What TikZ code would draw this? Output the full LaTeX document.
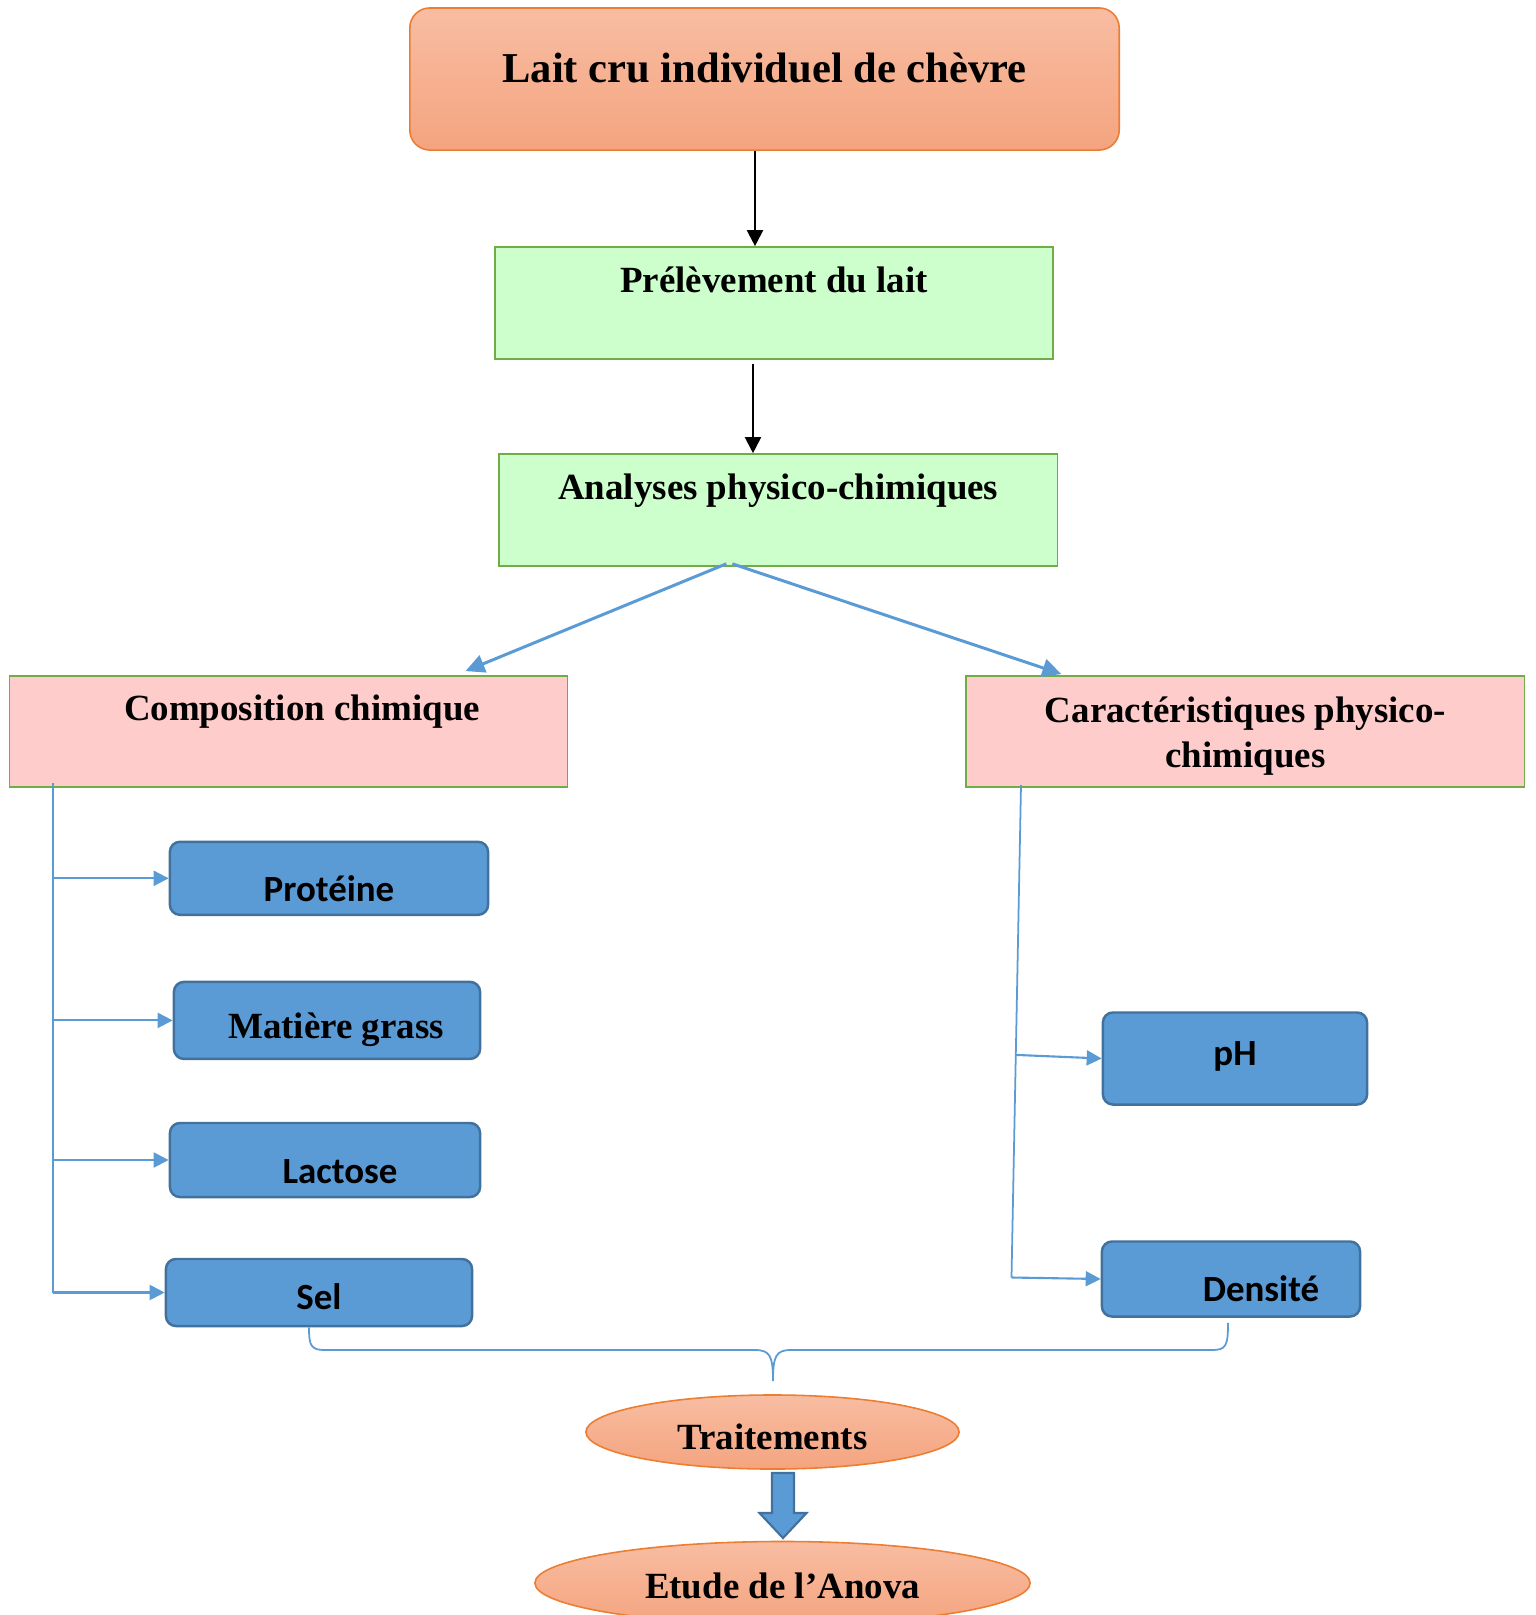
\documentclass[tikz,border=0pt]{standalone}
\usepackage{fontspec}
\setmainfont{Liberation Serif}
\newfontfamily\calibri{Carlito}
\usetikzlibrary{calc,shapes.geometric,arrows.meta}

\definecolor{peachtop}{HTML}{F8BDA2}
\definecolor{peachbot}{HTML}{F4A47F}
\definecolor{orngline}{HTML}{ED7D31}
\definecolor{mint}{HTML}{CCFFCC}
\definecolor{grnline}{HTML}{70AD47}
\definecolor{rose}{HTML}{FFCCCC}
\definecolor{bluebox}{HTML}{5B9BD5}
\definecolor{bluedark}{HTML}{41719C}

\begin{document}
\begin{tikzpicture}[x=0.01cm,y=-0.01cm,
    peach/.style={draw=orngline, line width=0.45pt, top color=peachtop, bottom color=peachbot, inner sep=0pt, font=\bfseries\fontsize{10.5}{12.8}\selectfont},
    stage/.style={draw=grnline, line width=0.45pt, fill=mint, minimum width=5.58cm, minimum height=1.12cm, inner sep=0pt, font=\bfseries\fontsize{10.5}{12.8}\selectfont},
    group/.style={draw=grnline, line width=0.45pt, fill=rose, minimum width=5.58cm, minimum height=1.11cm, inner sep=0pt, align=center, font=\bfseries\fontsize{10.5}{12.8}\selectfont},
    item/.style={draw=bluedark, line width=0.7pt, fill=bluebox, rounded corners=0.1cm, inner sep=0pt, text depth=0.04cm, font=\calibri\bfseries\fontsize{10.5}{12.8}\selectfont},
    flow/.style={-{Triangle[length=0.16cm,width=0.16cm]}, line width=0.6pt},
    link/.style={-{Triangle[length=0.19cm,width=0.18cm]}, draw=bluebox, fill=bluebox, line width=0.85pt},
    tree/.style={draw=bluebox, line width=0.5pt},
    branch/.style={tree, -{Triangle[length=0.15cm,width=0.15cm]}, fill=bluebox, line width=0.6pt}]
    \useasboundingbox (0,0) rectangle (1535,1615);
    \clip (0,0) rectangle (1535,1615);

    % main chain
    \node[peach, rounded corners=0.2cm, minimum width=7.09cm, minimum height=1.42cm, text height=0.3cm, text depth=0.24cm, font=\bfseries\fontsize{12.1}{14}\selectfont] (lait) at (764.5,79) {Lait cru individuel de chèvre};
    \node[stage, text height=0.26cm, text depth=0.46cm] (prel) at (774,303) {Prélèvement du lait};
    \node[stage, text height=0.26cm, text depth=0.48cm] (ana) at (778.3,510) {Analyses physico-chimiques};
    \coordinate (s1) at ([xshift=-0.095cm]lait.south);
    \coordinate (s2) at ([xshift=-0.21cm,yshift=-0.04cm]prel.south);
    \draw[flow] (s1) -- (s1 |- prel.north);
    \draw[flow] (s2) -- (s2 |- ana.north);

    % two groups
    \node[group, text height=0.26cm, text depth=0.47cm] (comp) at (288.5,731.4) {\hspace*{0.27cm}Composition chimique};
    \node[group] (carac) at (1245.4,731.4) {\rule{0pt}{0.36cm}Caractéristiques physico-\\chimiques};
    \draw[link] ($(ana.south)+(-52,-3)$) -- ($(comp.north)+(177,-4)$);
    \draw[link] ($(ana.south)+(-46,-3)$) -- ($(carac.north)+(-184,-1)$);

    % composition
    \node[item, minimum width=3.18cm, minimum height=0.73cm, text height=0.5cm] (prot) at (329,878.3) {Protéine};
    \node[item, minimum width=3.06cm, minimum height=0.77cm, text height=0.41cm, font=\bfseries\fontsize{10.5}{12.8}\selectfont] (mat) at (327,1020.4) {\hspace*{0.18cm}Matière grass};
    \node[item, minimum width=3.1cm, minimum height=0.74cm, text height=0.5cm] (lac) at (325,1160) {\hspace*{0.3cm}Lactose};
    \node[item, minimum width=3.06cm, minimum height=0.67cm, text height=0.37cm] (sel) at (319,1292.5) {Sel};
    \coordinate (ltop) at (53,783);
    \draw[tree] (ltop) -- (ltop |- sel.west);
    \draw[branch] (ltop |- prot.west) -- (prot.west);
    \draw[branch] (ltop |- mat.west) -- (mat.west);
    \draw[branch] (ltop |- lac.west) -- (lac.west);
    \draw[branch] (ltop |- sel.west) -- (sel.west);

    % caracteristiques
    \node[item, minimum width=2.64cm, minimum height=0.92cm, text height=0.17cm] (ph) at (1235,1058.5) {pH};
    \node[item, minimum width=2.58cm, minimum height=0.75cm, text height=0.48cm] (dens) at (1231,1279) {\hspace*{0.6cm}Densité};
    \coordinate (rtop) at (1021,785);
    \coordinate (rbot) at (1011.5,1277.5);
    \draw[tree] (rtop) -- (rbot);
    \draw[branch] ($(rtop)!0.548!(rbot)$) -- (ph.west);
    \draw[branch] (rbot) -- (dens.west);

    % brace and end
    \draw[tree] ($(sel.south)+(-10,0)$) .. controls (309,1346) and (311,1350) .. (325,1350) -- (755,1350)
        .. controls (770,1350) and (773,1356) .. (773,1381)
        .. controls (773,1356) and (776,1350) .. (791,1350) -- (1212,1350)
        .. controls (1226,1350) and (1228,1346) .. ($(dens.south)+(-3,5)$);
    \node[peach, ellipse, minimum width=3.73cm, minimum height=0.74cm, text height=0.38cm, text depth=0.04cm] (trait) at (772.5,1432) {Traitements};
    \node[peach, ellipse, minimum width=4.95cm, minimum height=0.83cm, text height=0.34cm, text depth=0.04cm] (anova) at (782.5,1583) {Etude de l’Anova};
    \draw[draw=bluedark, fill=bluebox, line width=0.6pt] (772,1473) -- (794,1473) -- (794,1513) -- (806.5,1513) -- (783,1538) -- (759.5,1513) -- (772,1513) -- cycle;

\end{tikzpicture}
\end{document}
